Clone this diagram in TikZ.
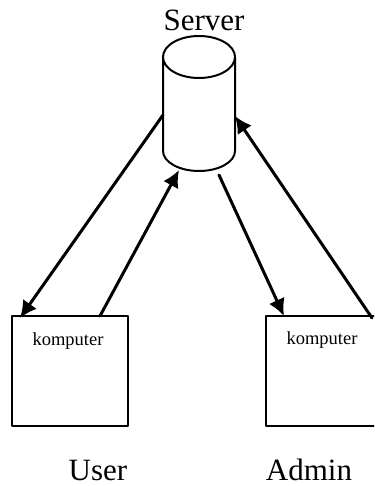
\documentclass[tikz,border=0pt]{standalone}
\usepackage{fontspec}
\setmainfont{Liberation Serif}
\usetikzlibrary{arrows.meta}

\tikzset{
  kotak/.style={draw,line width=2pt,minimum width=116pt,minimum height=110pt,inner sep=0pt},
  judul/.style={anchor=base,inner sep=0pt,font=\fontsize{31}{31}\selectfont},
  isi/.style={anchor=base,inner sep=0pt,font=\fontsize{18.5}{18.5}\selectfont},
  panah/.style={-{Latex[length=17pt,width=17pt]},line width=3pt}
}

\begin{document}
\begin{tikzpicture}[line cap=round,line join=round,x=1pt,y=-1pt]
\useasboundingbox (0,0) rectangle (374,486);
\clip (0,0) rectangle (374,486);

\node[minimum width=72pt,minimum height=134pt,inner sep=0pt,outer sep=0pt] (server) at (199,103) {};
\draw[line width=2pt] (server.center) ++(-36,-46) arc[start angle=180,end angle=540,x radius=36pt,y radius=21pt]
  -- ++(0,94) arc[start angle=180,end angle=360,x radius=36pt,y radius=20pt] -- ++(0,-94);
\node[judul] (serverlabel) at (204,31) {Server};

\node[kotak] (user) at (70,371) {};
\node[kotak] (admin) at (324,371) {};
\node[isi] (komputer1) at (68,345) {komputer};
\node[isi] (komputer2) at (322,344) {komputer};
\node[judul] (userlabel) at (98,480) {User};
\node[judul] (adminlabel) at (309,480) {Admin};

\coordinate (1a) at (163,115);
\coordinate (1b) at (20,318);
\coordinate (2a) at (100,316);
\coordinate (2b) at (179,170);
\coordinate (3a) at (219,175);
\coordinate (3b) at (284,316);
\coordinate (4a) at (372,318);
\coordinate (4b) at (235,116);

\path (1a) edge[panah] (1b);
\path (2a) edge[panah] (2b);
\path (3a) edge[panah] (3b);
\path (4a) edge[panah] (4b);

\end{tikzpicture}
\end{document}
